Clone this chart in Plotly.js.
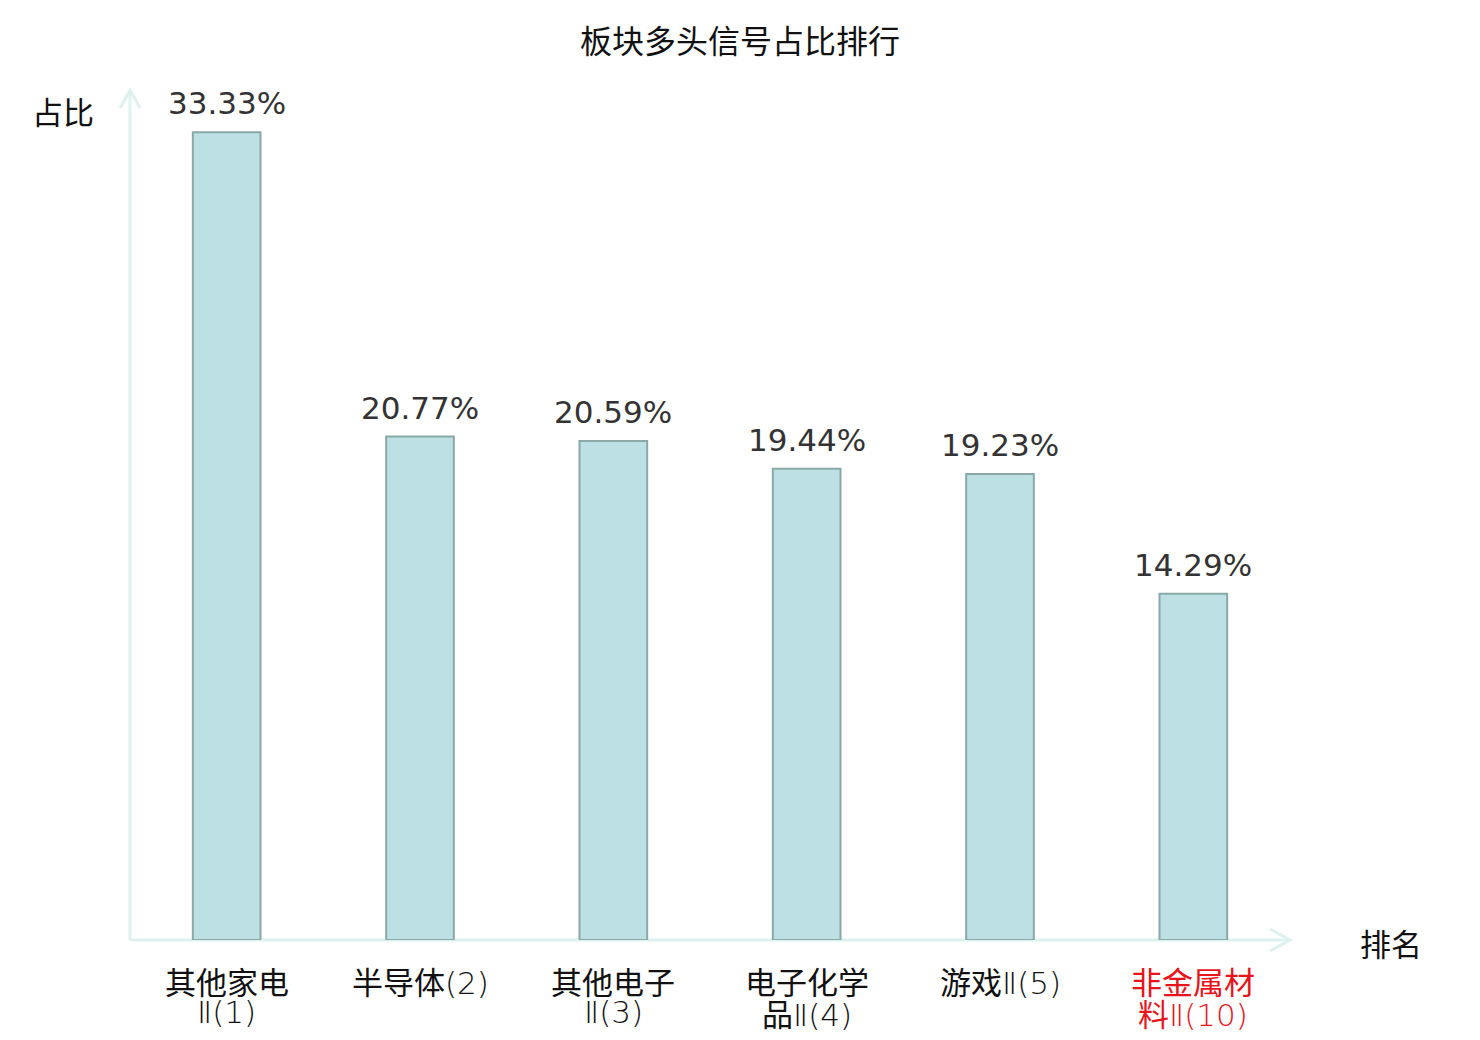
<!DOCTYPE html>
<html>
<head>
<meta charset="utf-8">
<script src="https://cdn.plot.ly/plotly-3.0.1.min.js"></script>
<style>
  html, body { margin: 0; padding: 0; background: #fff; }
  #chart { width: 1480px; height: 1040px; }
</style>
</head>
<body>
<div id="chart"></div>
<script>
const categories = [
  "其他家电Ⅱ(1)",
  "半导体(2)",
  "其他电子Ⅱ(3)",
  "电子化学品Ⅱ(4)",
  "游戏Ⅱ(5)",
  "非金属材料Ⅱ(10)"
];
// how each tick label wraps into lines
const tickLines = [
  ["其他家电", "Ⅱ(1)"],
  ["半导体(2)"],
  ["其他电子", "Ⅱ(3)"],
  ["电子化学", "品Ⅱ(4)"],
  ["游戏Ⅱ(5)"],
  ["非金属材", "料Ⅱ(10)"]
];
const shares = [33.33, 20.77, 20.59, 19.44, 19.23, 14.29];
const highlight = [false, false, false, false, false, true];

const cjk = "Noto Sans CJK SC, DejaVu Sans, sans-serif";
const axisColor = "#ddf1ee";

// latin part of a label in a thin face, like the reference
function styleLine(s) {
  return s.replace(/([Ⅱ()0-9]+)/g,
    '<span style="font-family:\'DejaVu Sans ExtraLight\', \'DejaVu Sans Light\', \'DejaVu Sans\';font-weight:200">$1</span>');
}

const data = [
  {
    type: "bar",
    x: categories,
    y: shares,
    width: 0.35,
    marker: {
      color: "#bce0e3",
      line: { color: "#8aa8a8", width: 2 }
    },
    hoverinfo: "skip"
  }
];

const valueLabels = categories.map((c, i) => ({
  x: c,
  y: shares[i],
  xref: "x",
  yref: "y",
  text: shares[i].toFixed(2) + "%",
  showarrow: false,
  yanchor: "bottom",
  yshift: 9,
  font: { family: "DejaVu Sans, sans-serif", size: 31, color: "#333333" }
}));

const tickLabels = [];
categories.forEach((c, i) => {
  tickLines[i].forEach((line, j) => {
    tickLabels.push({
      x: c,
      y: 0,
      xref: "x",
      yref: "paper",
      text: styleLine(line),
      showarrow: false,
      yanchor: "middle",
      yshift: -40 - 32 * j,
      font: { family: cjk, size: 31, color: highlight[i] ? "#e8141c" : "#111111" }
    });
  });
});

// axis arrows, drawn in paper units (plot area is 1160 x 850 px)
const pw = 1160, ph = 850;
const arrowUp = `M ${-10 / pw} ${1 - 18 / ph} L 0 1 L ${10 / pw} ${1 - 18 / ph}`;
const arrowRight = `M ${1 - 20 / pw} ${11 / ph} L 1 0 L ${1 - 20 / pw} ${-11 / ph}`;

const layout = {
  width: 1480,
  height: 1040,
  paper_bgcolor: "#ffffff",
  plot_bgcolor: "#ffffff",
  showlegend: false,
  margin: { l: 130, r: 190, t: 90, b: 100 },
  title: {
    text: "板块多头信号占比排行",
    font: { family: cjk, size: 32, color: "#111111" },
    x: 0.5,
    xanchor: "center",
    y: 1 - 42 / 1040,
    yanchor: "middle"
  },
  xaxis: {
    type: "category",
    range: [-0.5, 5.5],
    showticklabels: false,
    showline: false,
    showgrid: false,
    zeroline: false,
    ticks: "",
    fixedrange: true
  },
  yaxis: {
    range: [0, 35.07],
    showticklabels: false,
    showline: false,
    showgrid: false,
    zeroline: false,
    ticks: "",
    fixedrange: true
  },
  shapes: [
    { type: "line", xref: "paper", yref: "paper", x0: 0, y0: 0, x1: 0, y1: 1,
      line: { color: axisColor, width: 3 }, layer: "below" },
    { type: "line", xref: "paper", yref: "paper", x0: 0, y0: 0, x1: 1, y1: 0,
      line: { color: axisColor, width: 3 }, layer: "below" },
    { type: "path", xref: "paper", yref: "paper", path: arrowUp,
      line: { color: axisColor, width: 3 } },
    { type: "path", xref: "paper", yref: "paper", path: arrowRight,
      line: { color: axisColor, width: 3 } }
  ],
  annotations: valueLabels.concat(tickLabels, [
    {
      text: "占比", xref: "paper", yref: "paper",
      x: -67 / pw, y: 1 - 20 / ph, xanchor: "center", yanchor: "middle",
      showarrow: false,
      font: { family: cjk, size: 31, color: "#111111" }
    },
    {
      text: "排名", xref: "paper", yref: "paper",
      x: 1 + 101 / pw, y: -2 / ph, xanchor: "center", yanchor: "middle",
      showarrow: false,
      font: { family: cjk, size: 31, color: "#111111" }
    }
  ])
};

Plotly.newPlot("chart", data, layout, { displayModeBar: false, staticPlot: true });
</script>
</body>
</html>
